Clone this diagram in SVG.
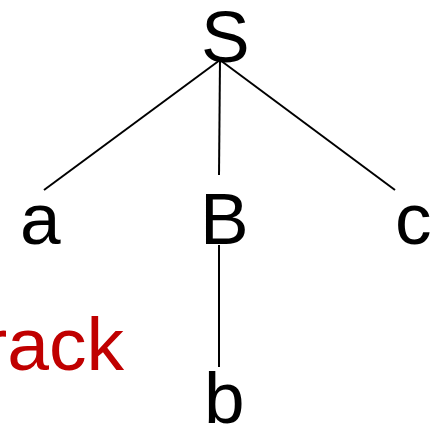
<svg xmlns="http://www.w3.org/2000/svg" width="438" height="426" viewBox="0 0 438 426">
  <style>
    .sym { font-family: "Liberation Sans", Arial, sans-serif; font-size: 73px; fill: #000; }
    .note { font-family: "Liberation Sans", Arial, sans-serif; font-size: 75px; fill: #C00000; }
    .edge { stroke: #000; stroke-width: 2; fill: none; }
  </style>
  <rect width="438" height="426" fill="#fff"/>
  <g id="connectors">
    <line class="edge" x1="220" y1="60" x2="44" y2="190"/>
    <line class="edge" x1="220" y1="60" x2="219" y2="175"/>
    <line class="edge" x1="220" y1="60" x2="395" y2="190"/>
    <line class="edge" x1="219" y1="245" x2="219" y2="367"/>
  </g>
  <g id="node-S"><text class="sym" x="201" y="62">S</text></g>
  <g id="node-a"><text class="sym" x="20" y="244">a</text></g>
  <g id="node-B"><text class="sym" x="200" y="244">B</text></g>
  <g id="node-c"><text class="sym" x="395" y="244">c</text></g>
  <g id="node-b"><text class="sym" x="204" y="423">b</text></g>
  <!-- red label running in from the left edge -->
  <g id="label-rack"><text class="note" x="124" y="370" text-anchor="end">rack</text></g>
</svg>
